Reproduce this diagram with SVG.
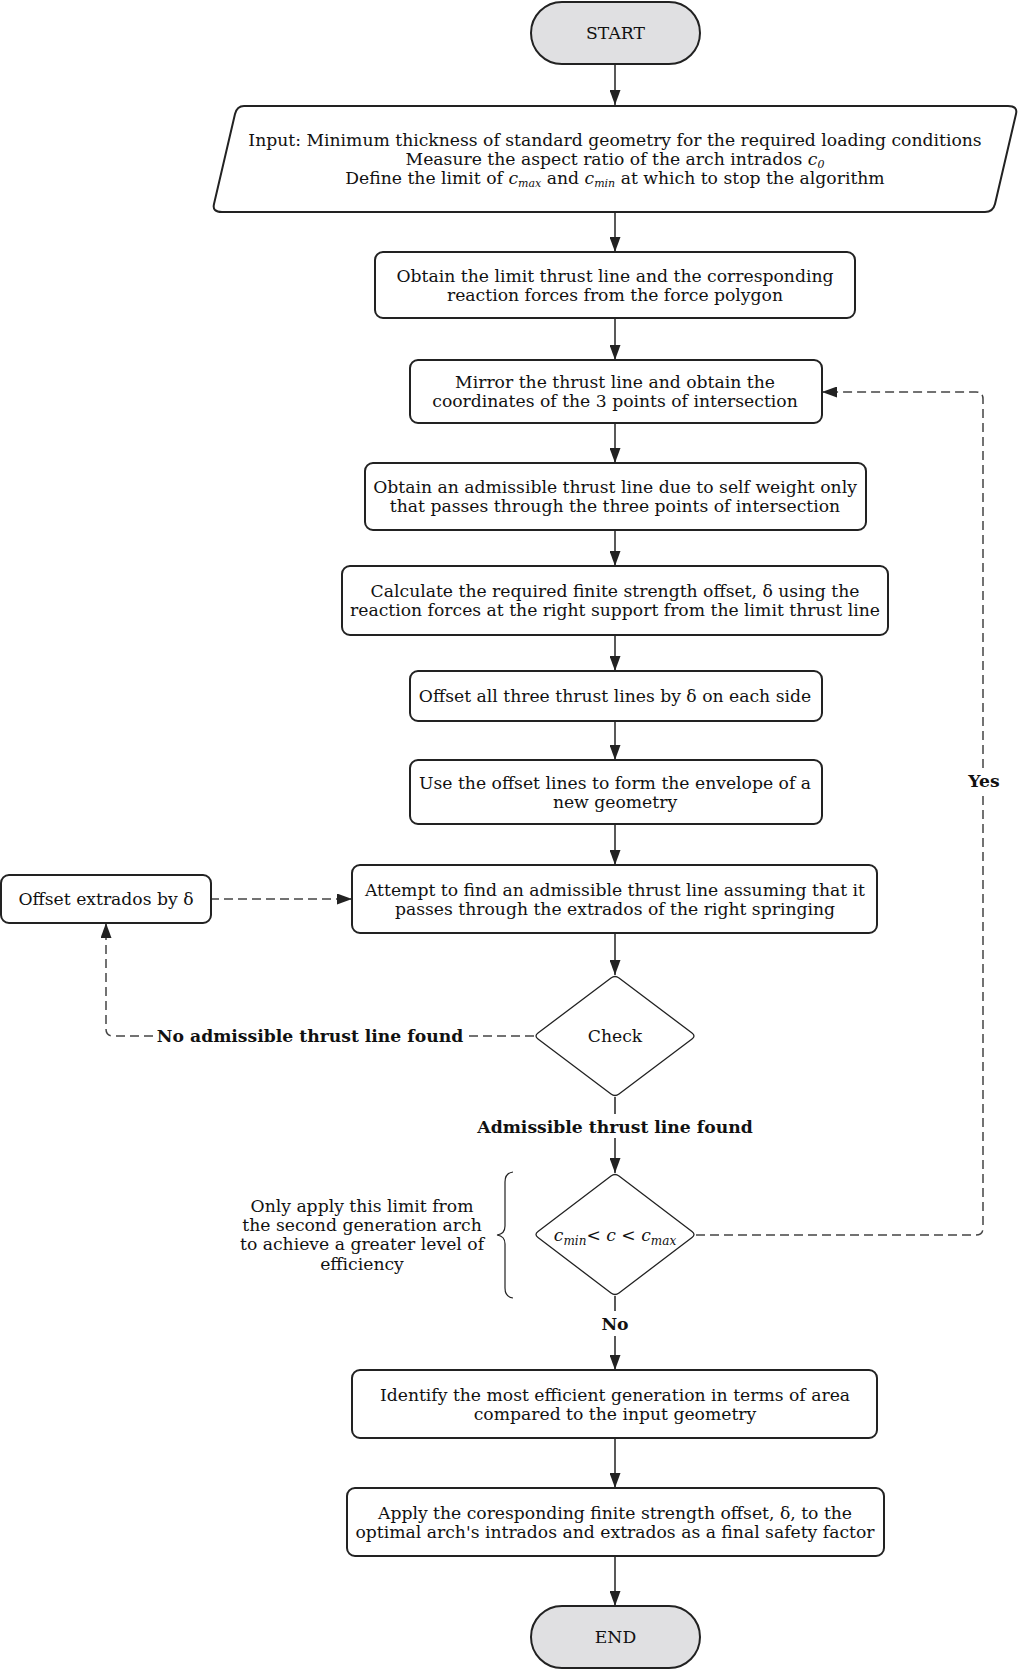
<svg xmlns="http://www.w3.org/2000/svg" width="1019" height="1669" viewBox="0 0 1019 1669">
<style>
.box{fill:#fff;stroke:#222;stroke-width:2}
.pill{fill:#e0e0e2;stroke:#222;stroke-width:2}
.dia{fill:#fff;stroke:#222;stroke-width:1.3}
.t{font-family:"DejaVu Serif","Liberation Serif",serif;font-size:17.2px;fill:#111;text-anchor:middle}
.b{font-family:"DejaVu Serif","Liberation Serif",serif;font-size:17.2px;font-weight:bold;fill:#111;text-anchor:middle}
.i{font-style:italic}
.ln{fill:none;stroke:#222;stroke-width:1.5}
.dl{fill:none;stroke:#444;stroke-width:1.5;stroke-dasharray:9 5}
</style>
<defs>
<marker id="ah" markerUnits="userSpaceOnUse" markerWidth="15" markerHeight="11" viewBox="0 0 15 11" refX="15" refY="5.5" orient="auto">
<path d="M0,0 L15,5.5 L0,11 Z" fill="#222"/>
</marker>
</defs>
<g id="connectors">
<path class="ln" d="M615,64 V105" marker-end="url(#ah)"/>
<path class="ln" d="M615,212 V252" marker-end="url(#ah)"/>
<path class="ln" d="M615,318 V360" marker-end="url(#ah)"/>
<path class="ln" d="M615,423 V463" marker-end="url(#ah)"/>
<path class="ln" d="M615,530 V566" marker-end="url(#ah)"/>
<path class="ln" d="M615,635 V671" marker-end="url(#ah)"/>
<path class="ln" d="M615,721 V760" marker-end="url(#ah)"/>
<path class="ln" d="M615,824 V865" marker-end="url(#ah)"/>
<path class="ln" d="M615,933 V975" marker-end="url(#ah)"/>
<path class="ln" d="M615,1097 V1114"/>
<path class="ln" d="M615,1138 V1173" marker-end="url(#ah)"/>
<path class="ln" d="M615,1296 V1311"/>
<path class="ln" d="M615,1336 V1370" marker-end="url(#ah)"/>
<path class="ln" d="M615,1438 V1488" marker-end="url(#ah)"/>
<path class="ln" d="M615,1556 V1606" marker-end="url(#ah)"/>
<path class="dl" d="M210,899 H352" marker-end="url(#ah)"/>
<path class="dl" d="M534,1036 H467"/>
<path class="dl" d="M153,1036 H113 Q106,1036 106,1029 V923" marker-end="url(#ah)"/>
<path class="dl" d="M696,1235 H976 Q983,1235 983,1228 V796"/>
<path class="dl" d="M983,768 V399 Q983,392 976,392 H822" marker-end="url(#ah)"/>
<text class="b" x="310" y="1042">No admissible thrust line found</text>
<text class="b" x="615" y="1133">Admissible thrust line found</text>
<text class="b" x="615" y="1330">No</text>
<text class="b" x="984" y="787">Yes</text>
</g>
<g id="start">
<rect class="pill" x="531" y="2" width="169" height="62" rx="31"/>
<text class="t" x="615.5" y="39">START</text>
</g>
<g id="input">
<path class="box" d="M244,106 H1008 Q1018,106 1016,114 L995,204 Q993,212 985,212 H222 Q212,212 214,204 L235,114 Q237,106 244,106 Z"/>
<text class="t" x="615" y="145.5">Input: Minimum thickness of standard geometry for the required loading conditions</text>
<text class="t" x="615" y="164.5">Measure the aspect ratio of the arch intrados <tspan class="i">c</tspan><tspan class="i" font-size="11" dy="3">0</tspan></text>
<text class="t" x="615" y="183.5">Define the limit of <tspan class="i">c</tspan><tspan class="i" font-size="11" dy="3">max</tspan><tspan dy="-3"> and </tspan><tspan class="i">c</tspan><tspan class="i" font-size="11" dy="3">min</tspan><tspan dy="-3"> at which to stop the algorithm</tspan></text>
</g>
<g id="limit-thrust">
<rect class="box" x="375" y="252" width="480" height="66" rx="8"/>
<text class="t" x="615" y="281.5">Obtain the limit thrust line and the corresponding</text>
<text class="t" x="615" y="300.5">reaction forces from the force polygon</text>
</g>
<g id="mirror">
<rect class="box" x="410" y="360" width="412" height="63" rx="8"/>
<text class="t" x="615" y="388">Mirror the thrust line and obtain the</text>
<text class="t" x="615" y="407">coordinates of the 3 points of intersection</text>
</g>
<g id="admissible">
<rect class="box" x="365" y="463" width="501" height="67" rx="8"/>
<text class="t" x="615" y="493">Obtain an admissible thrust line due to self weight only</text>
<text class="t" x="615" y="512">that passes through the three points of intersection</text>
</g>
<g id="calculate">
<rect class="box" x="342" y="566" width="546" height="69" rx="8"/>
<text class="t" x="615" y="597">Calculate the required finite strength offset, δ using the</text>
<text class="t" x="615" y="616">reaction forces at the right support from the limit thrust line</text>
</g>
<g id="offset-all">
<rect class="box" x="410" y="671" width="412" height="50" rx="8"/>
<text class="t" x="615" y="702">Offset all three thrust lines by δ on each side</text>
</g>
<g id="envelope">
<rect class="box" x="410" y="760" width="412" height="64" rx="8"/>
<text class="t" x="615" y="788.5">Use the offset lines to form the envelope of a</text>
<text class="t" x="615" y="807.5">new geometry</text>
</g>
<g id="attempt">
<rect class="box" x="352" y="865" width="525" height="68" rx="8"/>
<text class="t" x="615" y="895.5">Attempt to find an admissible thrust line assuming that it</text>
<text class="t" x="615" y="914.5">passes through the extrados of the right springing</text>
</g>
<g id="offset-extrados">
<rect class="box" x="1" y="875" width="210" height="48" rx="8"/>
<text class="t" x="106" y="905">Offset extrados by δ</text>
</g>
<g id="check">
<path class="dia" d="M611,978 Q615,975 619,978 L692,1033 Q696,1036 692,1039 L619,1094 Q615,1097 611,1094 L538,1039 Q534,1036 538,1033 Z"/>
<text class="t" x="615" y="1042">Check</text>
</g>
<g id="limit-check">
<path class="dia" d="M611,1176 Q615,1173 619,1176 L692,1231.5 Q696,1234.5 692,1237.5 L619,1293 Q615,1296 611,1293 L538,1237.5 Q534,1234.5 538,1231.5 Z"/>
<text class="t i" x="615" y="1241">c<tspan font-size="12" dy="4">min</tspan><tspan dy="-4">&lt; c &lt; c</tspan><tspan font-size="12" dy="4">max</tspan></text>
</g>
<g id="note">
<path class="ln" style="stroke-width:1.2" d="M513,1172 Q505,1173 505,1182 V1226 Q505,1234 497,1235 Q505,1236 505,1244 V1288 Q505,1297 513,1298"/>
<text class="t" x="362" y="1212">Only apply this limit from</text>
<text class="t" x="362" y="1231">the second generation arch</text>
<text class="t" x="362" y="1250">to achieve a greater level of</text>
<text class="t" x="362" y="1270">efficiency</text>
</g>
<g id="identify">
<rect class="box" x="352" y="1370" width="525" height="68" rx="8"/>
<text class="t" x="615" y="1400.5">Identify the most efficient generation in terms of area</text>
<text class="t" x="615" y="1419.5">compared to the input geometry</text>
</g>
<g id="apply">
<rect class="box" x="347" y="1488" width="537" height="68" rx="8"/>
<text class="t" x="615" y="1518.5">Apply the coresponding finite strength offset, δ, to the</text>
<text class="t" x="615" y="1537.5">optimal arch's intrados and extrados as a final safety factor</text>
</g>
<g id="end">
<rect class="pill" x="531" y="1606" width="169" height="62" rx="31"/>
<text class="t" x="615.5" y="1643">END</text>
</g>
</svg>
